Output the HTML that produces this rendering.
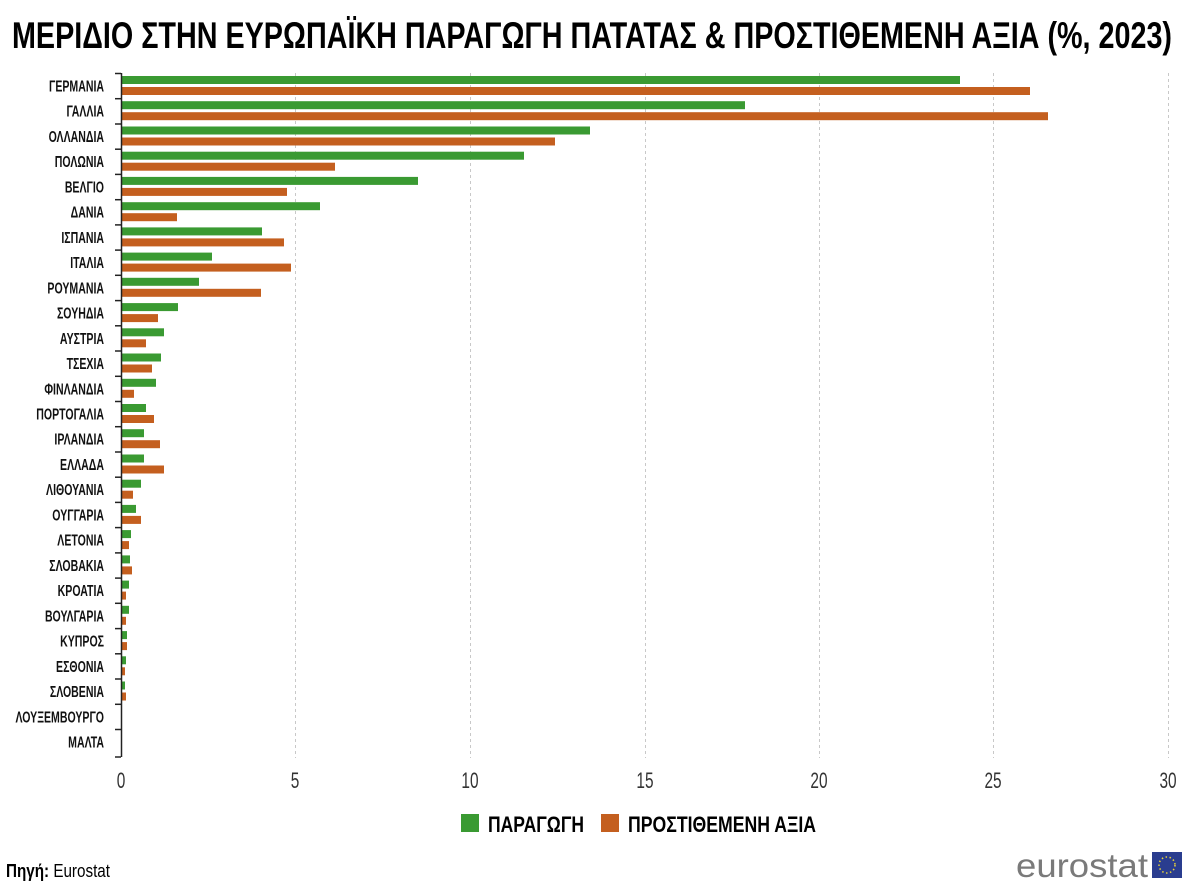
<!DOCTYPE html>
<html><head><meta charset="utf-8"><style>html,body{margin:0;padding:0;background:#fff}svg{display:block}</style></head><body>
<svg width="1200" height="882" xmlns="http://www.w3.org/2000/svg" font-family="'Liberation Sans',sans-serif">
<defs><style>.g{fill:#3a9a32}.o{fill:#c45f1f}.l{font-size:16px;font-weight:bold;fill:#111;text-anchor:end}.t{stroke:#222;stroke-width:1.5}</style></defs>
<text x="12" y="48" font-size="37" font-weight="bold" textLength="1160" lengthAdjust="spacingAndGlyphs">ΜΕΡΙΔΙΟ ΣΤΗΝ ΕΥΡΩΠΑΪΚΗ ΠΑΡΑΓΩΓΗ ΠΑΤΑΤΑΣ &amp; ΠΡΟΣΤΙΘΕΜΕΝΗ ΑΞΙΑ (%, 2023)</text>
<g stroke="#c8c8c8" stroke-dasharray="3,3" stroke-width="1">
<line x1="295.5" y1="73" x2="295.5" y2="758"/><line x1="470.5" y1="73" x2="470.5" y2="758"/><line x1="645.5" y1="73" x2="645.5" y2="758"/><line x1="819.5" y1="73" x2="819.5" y2="758"/><line x1="993.5" y1="73" x2="993.5" y2="758"/><line x1="1168.5" y1="73" x2="1168.5" y2="758"/>
</g>
<g transform="translate(0,76)"><rect class="g" x="122" y="0" width="838" height="8"/><rect class="o" x="122" y="11" width="908" height="8"/><text class="l" transform="scale(0.66,1)" x="157.6" y="15.5">ΓΕΡΜΑΝΙΑ</text><line class="t" x1="115" x2="121" y1="-2.5" y2="-2.5"/></g>
<g transform="translate(0,101.2)"><rect class="g" x="122" y="0" width="623" height="8"/><rect class="o" x="122" y="11" width="926" height="8"/><text class="l" transform="scale(0.66,1)" x="157.6" y="15.5">ΓΑΛΛΙΑ</text><line class="t" x1="115" x2="121" y1="-2.5" y2="-2.5"/></g>
<g transform="translate(0,126.5)"><rect class="g" x="122" y="0" width="468" height="8"/><rect class="o" x="122" y="11" width="433" height="8"/><text class="l" transform="scale(0.66,1)" x="157.6" y="15.5">ΟΛΛΑΝΔΙΑ</text><line class="t" x1="115" x2="121" y1="-2.5" y2="-2.5"/></g>
<g transform="translate(0,151.7)"><rect class="g" x="122" y="0" width="402" height="8"/><rect class="o" x="122" y="11" width="213" height="8"/><text class="l" transform="scale(0.66,1)" x="157.6" y="15.5">ΠΟΛΩΝΙΑ</text><line class="t" x1="115" x2="121" y1="-2.5" y2="-2.5"/></g>
<g transform="translate(0,176.9)"><rect class="g" x="122" y="0" width="296" height="8"/><rect class="o" x="122" y="11" width="165" height="8"/><text class="l" transform="scale(0.66,1)" x="157.6" y="15.5">ΒΕΛΓΙΟ</text><line class="t" x1="115" x2="121" y1="-2.5" y2="-2.5"/></g>
<g transform="translate(0,202.2)"><rect class="g" x="122" y="0" width="198" height="8"/><rect class="o" x="122" y="11" width="55" height="8"/><text class="l" transform="scale(0.66,1)" x="157.6" y="15.5">ΔΑΝΙΑ</text><line class="t" x1="115" x2="121" y1="-2.5" y2="-2.5"/></g>
<g transform="translate(0,227.4)"><rect class="g" x="122" y="0" width="140" height="8"/><rect class="o" x="122" y="11" width="162" height="8"/><text class="l" transform="scale(0.66,1)" x="157.6" y="15.5">ΙΣΠΑΝΙΑ</text><line class="t" x1="115" x2="121" y1="-2.5" y2="-2.5"/></g>
<g transform="translate(0,252.6)"><rect class="g" x="122" y="0" width="90" height="8"/><rect class="o" x="122" y="11" width="169" height="8"/><text class="l" transform="scale(0.66,1)" x="157.6" y="15.5">ΙΤΑΛΙΑ</text><line class="t" x1="115" x2="121" y1="-2.5" y2="-2.5"/></g>
<g transform="translate(0,277.8)"><rect class="g" x="122" y="0" width="77" height="8"/><rect class="o" x="122" y="11" width="139" height="8"/><text class="l" transform="scale(0.66,1)" x="157.6" y="15.5">ΡΟΥΜΑΝΙΑ</text><line class="t" x1="115" x2="121" y1="-2.5" y2="-2.5"/></g>
<g transform="translate(0,303.1)"><rect class="g" x="122" y="0" width="56" height="8"/><rect class="o" x="122" y="11" width="36" height="8"/><text class="l" transform="scale(0.66,1)" x="157.6" y="15.5">ΣΟΥΗΔΙΑ</text><line class="t" x1="115" x2="121" y1="-2.5" y2="-2.5"/></g>
<g transform="translate(0,328.3)"><rect class="g" x="122" y="0" width="42" height="8"/><rect class="o" x="122" y="11" width="24" height="8"/><text class="l" transform="scale(0.66,1)" x="157.6" y="15.5">ΑΥΣΤΡΙΑ</text><line class="t" x1="115" x2="121" y1="-2.5" y2="-2.5"/></g>
<g transform="translate(0,353.5)"><rect class="g" x="122" y="0" width="39" height="8"/><rect class="o" x="122" y="11" width="30" height="8"/><text class="l" transform="scale(0.66,1)" x="157.6" y="15.5">ΤΣΕΧΙΑ</text><line class="t" x1="115" x2="121" y1="-2.5" y2="-2.5"/></g>
<g transform="translate(0,378.8)"><rect class="g" x="122" y="0" width="34" height="8"/><rect class="o" x="122" y="11" width="12" height="8"/><text class="l" transform="scale(0.66,1)" x="157.6" y="15.5">ΦΙΝΛΑΝΔΙΑ</text><line class="t" x1="115" x2="121" y1="-2.5" y2="-2.5"/></g>
<g transform="translate(0,404)"><rect class="g" x="122" y="0" width="24" height="8"/><rect class="o" x="122" y="11" width="32" height="8"/><text class="l" transform="scale(0.66,1)" x="157.6" y="15.5">ΠΟΡΤΟΓΑΛΙΑ</text><line class="t" x1="115" x2="121" y1="-2.5" y2="-2.5"/></g>
<g transform="translate(0,429.2)"><rect class="g" x="122" y="0" width="22" height="8"/><rect class="o" x="122" y="11" width="38" height="8"/><text class="l" transform="scale(0.66,1)" x="157.6" y="15.5">ΙΡΛΑΝΔΙΑ</text><line class="t" x1="115" x2="121" y1="-2.5" y2="-2.5"/></g>
<g transform="translate(0,454.5)"><rect class="g" x="122" y="0" width="22" height="8"/><rect class="o" x="122" y="11" width="42" height="8"/><text class="l" transform="scale(0.66,1)" x="157.6" y="15.5">ΕΛΛΑΔΑ</text><line class="t" x1="115" x2="121" y1="-2.5" y2="-2.5"/></g>
<g transform="translate(0,479.7)"><rect class="g" x="122" y="0" width="19" height="8"/><rect class="o" x="122" y="11" width="11" height="8"/><text class="l" transform="scale(0.66,1)" x="157.6" y="15.5">ΛΙΘΟΥΑΝΙΑ</text><line class="t" x1="115" x2="121" y1="-2.5" y2="-2.5"/></g>
<g transform="translate(0,504.9)"><rect class="g" x="122" y="0" width="14" height="8"/><rect class="o" x="122" y="11" width="19" height="8"/><text class="l" transform="scale(0.66,1)" x="157.6" y="15.5">ΟΥΓΓΑΡΙΑ</text><line class="t" x1="115" x2="121" y1="-2.5" y2="-2.5"/></g>
<g transform="translate(0,530.1)"><rect class="g" x="122" y="0" width="9" height="8"/><rect class="o" x="122" y="11" width="7" height="8"/><text class="l" transform="scale(0.66,1)" x="157.6" y="15.5">ΛΕΤΟΝΙΑ</text><line class="t" x1="115" x2="121" y1="-2.5" y2="-2.5"/></g>
<g transform="translate(0,555.4)"><rect class="g" x="122" y="0" width="8" height="8"/><rect class="o" x="122" y="11" width="10" height="8"/><text class="l" transform="scale(0.66,1)" x="157.6" y="15.5">ΣΛΟΒΑΚΙΑ</text><line class="t" x1="115" x2="121" y1="-2.5" y2="-2.5"/></g>
<g transform="translate(0,580.6)"><rect class="g" x="122" y="0" width="7" height="8"/><rect class="o" x="122" y="11" width="4" height="8"/><text class="l" transform="scale(0.66,1)" x="157.6" y="15.5">ΚΡΟΑΤΙΑ</text><line class="t" x1="115" x2="121" y1="-2.5" y2="-2.5"/></g>
<g transform="translate(0,605.8)"><rect class="g" x="122" y="0" width="7" height="8"/><rect class="o" x="122" y="11" width="4" height="8"/><text class="l" transform="scale(0.66,1)" x="157.6" y="15.5">ΒΟΥΛΓΑΡΙΑ</text><line class="t" x1="115" x2="121" y1="-2.5" y2="-2.5"/></g>
<g transform="translate(0,631.1)"><rect class="g" x="122" y="0" width="5" height="8"/><rect class="o" x="122" y="11" width="5" height="8"/><text class="l" transform="scale(0.66,1)" x="157.6" y="15.5">ΚΥΠΡΟΣ</text><line class="t" x1="115" x2="121" y1="-2.5" y2="-2.5"/></g>
<g transform="translate(0,656.3)"><rect class="g" x="122" y="0" width="4" height="8"/><rect class="o" x="122" y="11" width="3" height="8"/><text class="l" transform="scale(0.66,1)" x="157.6" y="15.5">ΕΣΘΟΝΙΑ</text><line class="t" x1="115" x2="121" y1="-2.5" y2="-2.5"/></g>
<g transform="translate(0,681.5)"><rect class="g" x="122" y="0" width="3" height="8"/><rect class="o" x="122" y="11" width="4" height="8"/><text class="l" transform="scale(0.66,1)" x="157.6" y="15.5">ΣΛΟΒΕΝΙΑ</text><line class="t" x1="115" x2="121" y1="-2.5" y2="-2.5"/></g>
<g transform="translate(0,706.8)"><text class="l" transform="scale(0.66,1)" x="157.6" y="15.5">ΛΟΥΞΕΜΒΟΥΡΓΟ</text><line class="t" x1="115" x2="121" y1="-2.5" y2="-2.5"/></g>
<g transform="translate(0,732)"><text class="l" transform="scale(0.66,1)" x="157.6" y="15.5">ΜΑΛΤΑ</text><line class="t" x1="115" x2="121" y1="-2.5" y2="-2.5"/></g>
<line class="t" x1="115" x2="121" y1="757" y2="757"/>
<line x1="121.5" y1="73" x2="121.5" y2="757" stroke="#222" stroke-width="1.5"/>
<g font-size="22" fill="#333" text-anchor="middle" transform="scale(0.7,1)">
<text x="172.9" y="788">0</text><text x="421.4" y="788">5</text><text x="671.4" y="788">10</text><text x="921.4" y="788">15</text><text x="1170" y="788">20</text><text x="1418.6" y="788">25</text><text x="1668.6" y="788">30</text>
</g>
<rect x="461" y="814" width="18" height="18" fill="#3a9a32"/>
<text x="488" y="832" font-size="22" font-weight="bold" textLength="96" lengthAdjust="spacingAndGlyphs">ΠΑΡΑΓΩΓΗ</text>
<rect x="601" y="814" width="18" height="18" fill="#c45f1f"/>
<text x="628" y="832" font-size="22" font-weight="bold" textLength="188" lengthAdjust="spacingAndGlyphs">ΠΡΟΣΤΙΘΕΜΕΝΗ ΑΞΙΑ</text>
<text x="6" y="877" font-size="18" textLength="104" lengthAdjust="spacingAndGlyphs"><tspan font-weight="bold">Πηγή:</tspan> Eurostat</text>
<text x="1016" y="877" font-size="33" fill="#7a7a7a" textLength="132" lengthAdjust="spacingAndGlyphs">eurostat</text>
<rect x="1152" y="852" width="30" height="26" fill="#2a3d8f"/>
<circle cx="1167" cy="865" r="8" fill="none" stroke="#e8d33a" stroke-width="1.5" stroke-dasharray="1.5,2.5"/>
</svg>
</body></html>
